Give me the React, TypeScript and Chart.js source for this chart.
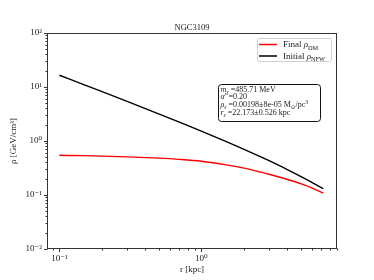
import React, { useEffect, useRef } from "react";
import { Chart, registerables } from "chart.js";
Chart.register(...registerables);

const chartTitle = "NGC3109";
const radii = [0.1, 0.15, 0.2, 0.3, 0.5, 0.7, 1, 1.5, 2, 2.6, 3, 4, 5, 6, 7.23];
const finalDM = [0.543, 0.535, 0.5255, 0.5084, 0.4808, 0.4571, 0.4227, 0.3622, 0.3137, 0.2667, 0.2427, 0.1954, 0.1626, 0.1361, 0.1079];
const initialNFW = [16.5, 10.97, 8.19, 5.41, 3.19, 2.24, 1.53, 0.975, 0.701, 0.514, 0.431, 0.299, 0.222, 0.172, 0.131];
const yMajorTicks = [0.01, 0.1, 1, 10, 100];
const xMajorTicks = [0.1, 1];
const xMin = 0.0818;
const xMax = 9.03;
const yMin = 0.01;
const yMax = 100;
const seriesLabels = ["Final", "Initial"];
const infoLines = [
  [{ t: "m", it: true }, { t: "χ", it: true, sub: true }, { t: " =485.71 MeV" }],
  [{ t: "α", it: true }, { t: "′" }, { t: " =0.20" }],
  [{ t: "ρ", it: true }, { t: "s", it: true, sub: true }, { t: " =0.00198±8e-05 M" }, { t: "⊙", sub: true }, { t: "/pc" }, { t: "3", sup: true }],
  [{ t: "r", it: true }, { t: "s", it: true, sub: true }, { t: " =22.173±0.526 kpc" }],
];

const FONT = '"Liberation Serif", "DejaVu Serif", serif';
const SUP: Record<string, string> = { "-": "⁻", "0": "⁰", "1": "¹", "2": "²", "3": "³" };
const sup = (n: number) => String(n).split("").map((c) => SUP[c] || c).join("");

type Seg = { t: string; it?: boolean; sub?: boolean; sup?: boolean };
function drawRich(ctx: CanvasRenderingContext2D, segs: Seg[], x: number, y: number, size: number) {
  let cx = x;
  for (const s of segs) {
    const fs = s.sub || s.sup ? size * 0.7 : size;
    ctx.font = `${s.it ? "italic " : ""}${fs}px ${FONT}`;
    const dy = s.sub ? size * 0.25 : s.sup ? -size * 0.4 : 0;
    ctx.fillText(s.t, cx, y + dy);
    cx += ctx.measureText(s.t).width;
  }
  return cx - x;
}

function roundRect(ctx: CanvasRenderingContext2D, x: number, y: number, w: number, h: number, r: number) {
  ctx.beginPath();
  ctx.moveTo(x + r, y);
  ctx.lineTo(x + w - r, y);
  ctx.arcTo(x + w, y, x + w, y + r, r);
  ctx.lineTo(x + w, y + h - r);
  ctx.arcTo(x + w, y + h, x + w - r, y + h, r);
  ctx.lineTo(x + r, y + h);
  ctx.arcTo(x, y + h, x, y + h - r, r);
  ctx.lineTo(x, y + r);
  ctx.arcTo(x, y, x + r, y, r);
  ctx.closePath();
}

const decor = {
  id: "decor",
  afterDraw(chart: any) {
    const { ctx, chartArea: a, scales } = chart;
    const xs = scales.x;
    const ys = scales.y;
    ctx.save();
    const L = Math.round(a.left) + 0.5, T = Math.round(a.top) + 0.5;
    const R = Math.round(a.right) - 0.5, B = Math.round(a.bottom) - 0.5;
    ctx.strokeStyle = "#333";
    ctx.lineWidth = 1;
    ctx.strokeRect(L, T, R - L, B - T);
    ctx.beginPath();
    for (let e = -2; e <= 2; e++) {
      for (let m = 1; m <= 9; m++) {
        const v = m * Math.pow(10, e);
        if (v < yMin - 1e-12 || v > yMax + 1e-9) continue;
        const py = Math.round(ys.getPixelForValue(v)) + 0.5;
        const len = m === 1 ? 3.5 : 2;
        ctx.moveTo(L, py);
        ctx.lineTo(L - len, py);
      }
    }
    for (let e = -2; e <= 1; e++) {
      for (let m = 1; m <= 9; m++) {
        const v = m * Math.pow(10, e);
        if (v < xMin || v > xMax) continue;
        const px = Math.round(xs.getPixelForValue(v)) + 0.5;
        const len = m === 1 ? 3.5 : 2;
        ctx.moveTo(px, B);
        ctx.lineTo(px, B + len);
      }
    }
    ctx.stroke();
    ctx.fillStyle = "#222";
    ctx.textAlign = "center";
    ctx.textBaseline = "alphabetic";
    ctx.font = `8.5px ${FONT}`;
    ctx.fillText(chartTitle, (a.left + a.right) / 2, 30);
    ctx.textAlign = "left";
    ctx.fillStyle = "rgba(255,255,255,0.8)";
    roundRect(ctx, 257.5, 38.5, 74, 23, 2);
    ctx.fill();
    ctx.strokeStyle = "#d0d0d0";
    ctx.stroke();
    const legendItems = [
      { color: "#ff0000", y: 44.5, segs: [{ t: seriesLabels[0] + " " }, { t: "ρ", it: true }, { t: "DM", sub: true }] },
      { color: "#000000", y: 56, segs: [{ t: seriesLabels[1] + " " }, { t: "ρ", it: true }, { t: "NFW", sub: true }] },
    ];
    for (const it of legendItems) {
      ctx.strokeStyle = it.color;
      ctx.lineWidth = 1.5;
      ctx.beginPath();
      ctx.moveTo(259, it.y);
      ctx.lineTo(277, it.y);
      ctx.stroke();
      ctx.fillStyle = "#222";
      drawRich(ctx, it.segs, 283, it.y + 2.8, 9);
    }
    ctx.fillStyle = "#ffffff";
    roundRect(ctx, 218.5, 84.5, 102, 37, 3);
    ctx.fill();
    ctx.strokeStyle = "#111";
    ctx.lineWidth = 1;
    ctx.stroke();
    ctx.fillStyle = "#222";
    const baselines = [91.8, 99, 106.8, 114.8];
    infoLines.forEach((segs, i) => drawRich(ctx, segs as Seg[], 220.5, baselines[i], 8));
    ctx.restore();
  },
};

export default function App() {
  const ref = useRef<HTMLCanvasElement>(null);
  useEffect(() => {
    if (!ref.current) return;
    const chart = new Chart(ref.current, {
      type: "line",
      data: {
        datasets: [
          {
            label: "Final ρDM",
            data: radii.map((r, i) => ({ x: r, y: finalDM[i] })),
            borderColor: "#ff0000",
            borderWidth: 1.4,
            pointRadius: 0,
            cubicInterpolationMode: "monotone",
          },
          {
            label: "Initial ρNFW",
            data: radii.map((r, i) => ({ x: r, y: initialNFW[i] })),
            borderColor: "#000000",
            borderWidth: 1.4,
            pointRadius: 0,
            cubicInterpolationMode: "monotone",
          },
        ],
      },
      options: {
        responsive: false,
        animation: false,
        layout: { padding: { top: 33, right: 37, left: 0, bottom: 0 } },
        plugins: { legend: { display: false }, title: { display: false }, tooltip: { enabled: false } },
        scales: {
          x: {
            type: "logarithmic",
            min: xMin,
            max: xMax,
            afterFit: (s: any) => { s.height = 31; },
            afterBuildTicks: (s: any) => { s.ticks = xMajorTicks.map((v) => ({ value: v })); },
            grid: { display: true, drawOnChartArea: false, drawTicks: true, tickLength: 4, tickColor: "rgba(0,0,0,0)" },
            border: { display: false },
            ticks: {
              autoSkip: false,
              maxRotation: 0,
              padding: 0,
              color: "#222",
              font: { family: FONT, size: 9 },
              callback: (v: any) => "10" + sup(Math.round(Math.log10(Number(v)))),
            },
            title: { display: true, text: "r [kpc]", color: "#222", font: { family: FONT, size: 9 }, padding: { top: 0, bottom: 4.5 } },
          },
          y: {
            type: "logarithmic",
            min: yMin,
            max: yMax,
            afterFit: (s: any) => { s.width = 47; },
            afterBuildTicks: (s: any) => { s.ticks = yMajorTicks.map((v) => ({ value: v })); },
            grid: { display: true, drawOnChartArea: false, drawTicks: true, tickLength: 4, tickColor: "rgba(0,0,0,0)" },
            border: { display: false },
            ticks: {
              autoSkip: false,
              padding: 1,
              color: "#222",
              font: { family: FONT, size: 9 },
              callback: (v: any) => "10" + sup(Math.round(Math.log10(Number(v)))),
            },
            title: { display: true, text: "ρ [GeV/cm³]", color: "#222", font: { family: FONT, size: 9 }, padding: { top: 8, bottom: 0 } },
          },
        },
      },
      plugins: [decor],
    } as any);
    return () => chart.destroy();
  }, []);
  return (
    <div style={{ position: "absolute", left: 0, top: 0, width: 374, height: 280, background: "#fff" }}>
      <canvas ref={ref} width={374} height={280} style={{ display: "block" }} />
    </div>
  );
}
